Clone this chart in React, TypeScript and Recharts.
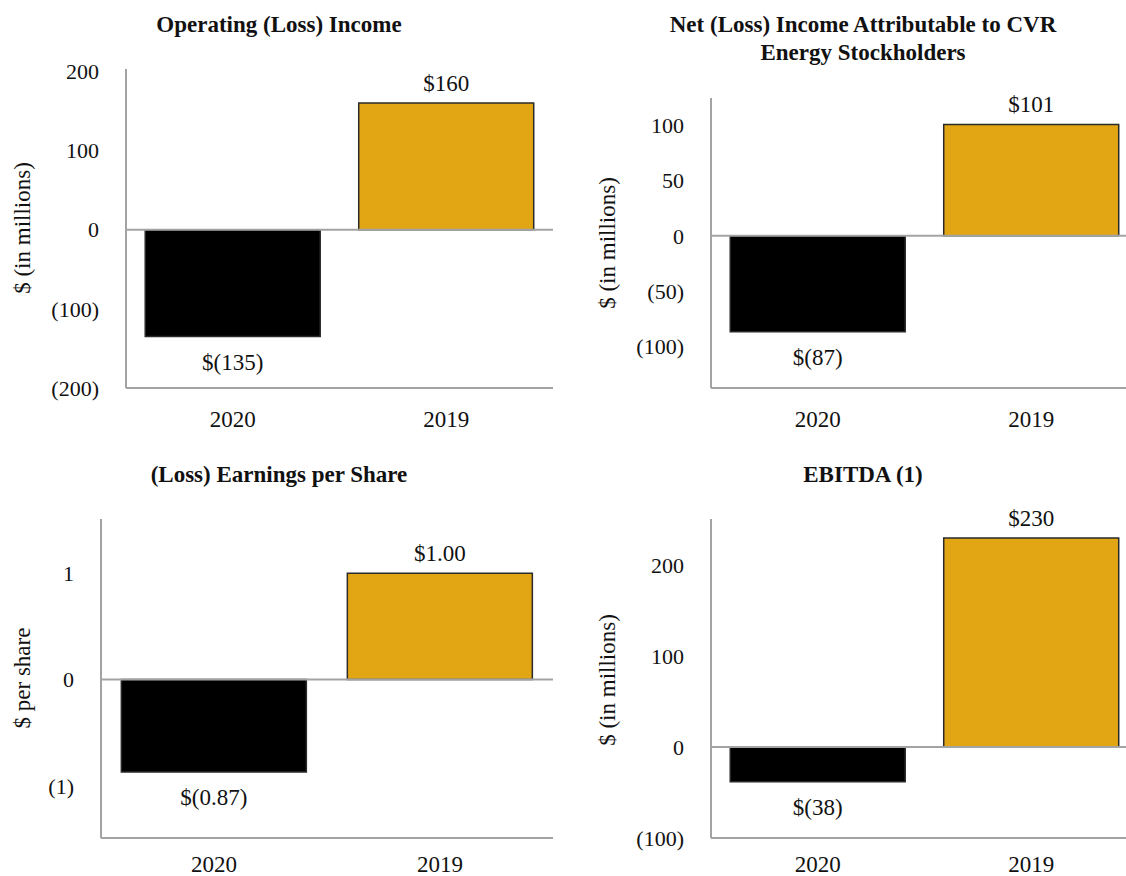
import React from "react";
import { BarChart, Bar, XAxis, YAxis, Cell, LabelList, ReferenceLine } from "recharts";

const categories = ["2020", "2019"];
const barColors = ["#000000", "#E2A614"];

const opIncomeValues = [-135, 160];
const opIncomeTicks = [-200, -100, 0, 100, 200];

const netIncomeValues = [-87, 101];
const netIncomeTicks = [-100, -50, 0, 50, 100];

const epsValues = [-0.87, 1.0];
const epsTicks = [-1, 0, 1];

const ebitdaValues = [-38, 230];
const ebitdaTicks = [-100, 0, 100, 200];

const FONT = "'Liberation Serif', 'Times New Roman', serif";
const AXIS_GRAY = "#A3A3A3";

type PanelProps = {
  title: string[];
  yLabel: string;
  values: number[];
  ticks: number[];
  domain: [number, number];
  decimals: number;
  left: number;
  top: number;
  width: number;
  height: number;
  plotTop: number;
  plotLeft: number;
  plotRight: number;
  plotBottom: number;
  titleX: number;
  titleY: number;
  yLabelX: number;
  yLabelY: number;
  xTickOffset: number;
};

const fmtTick = (v: number) => (v < 0 ? `(${Math.abs(v)})` : `${v}`);

function Panel(p: PanelProps) {
  const data = categories.map((c, i) => ({ name: c, value: p.values[i] }));
  const fmtVal = (v: number) =>
    v < 0 ? `$(${Math.abs(v).toFixed(p.decimals)})` : `$${v.toFixed(p.decimals)}`;

  const renderLabel = (props: any) => {
    const { x, y, width, height, value } = props;
    const topY = Math.min(y, y + height);
    const botY = Math.max(y, y + height);
    const cx = x + width / 2;
    const ty = value >= 0 ? topY - 12 : botY + 33;
    return (
      <text x={cx} y={ty} textAnchor="middle" fontFamily={FONT} fontSize={23} fill="#111">
        {fmtVal(value)}
      </text>
    );
  };

  const renderYTick = (props: any) => {
    const { x, y, payload } = props;
    return (
      <text x={x - 27} y={y} dy="0.35em" textAnchor="end" fontFamily={FONT} fontSize={22} fill="#111">
        {fmtTick(payload.value)}
      </text>
    );
  };

  const renderXTick = (props: any) => {
    const { x, y, payload } = props;
    return (
      <text x={x} y={y + p.xTickOffset} textAnchor="middle" fontFamily={FONT} fontSize={23} fill="#111">
        {payload.value}
      </text>
    );
  };

  return (
    <div style={{ position: "absolute", left: p.left, top: p.top, width: p.width, height: p.height }}>
      <BarChart
        width={p.width}
        height={p.height}
        data={data}
        margin={{ top: p.plotTop, right: p.width - p.plotRight, left: 0, bottom: 0 }}
        barCategoryGap="9%"
      >
        <XAxis
          dataKey="name"
          axisLine={{ stroke: AXIS_GRAY, strokeWidth: 2 }}
          tickLine={false}
          tickSize={0}
          tickMargin={0}
          height={p.height - p.plotBottom}
          tick={renderXTick}
          interval={0}
        />
        <YAxis
          type="number"
          domain={p.domain}
          ticks={p.ticks}
          allowDataOverflow
          axisLine={{ stroke: AXIS_GRAY, strokeWidth: 2 }}
          tickLine={false}
          tickSize={0}
          tickMargin={0}
          width={p.plotLeft}
          tick={renderYTick}
          interval={0}
        />
        <ReferenceLine y={0} stroke={AXIS_GRAY} strokeWidth={2} />
        <Bar dataKey="value" isAnimationActive={false} stroke="#2a2a2a" strokeWidth={1.5}>
          {data.map((d, i) => (
            <Cell key={d.name} fill={barColors[i]} />
          ))}
          <LabelList dataKey="value" content={renderLabel} />
        </Bar>
      </BarChart>
      <div
        style={{
          position: "absolute",
          left: p.titleX - 250,
          top: p.titleY,
          width: 500,
          textAlign: "center",
          fontFamily: FONT,
          fontWeight: "bold",
          fontSize: 23,
          lineHeight: "28px",
          color: "#111",
        }}
      >
        {p.title.map((t) => (
          <div key={t}>{t}</div>
        ))}
      </div>
      <div
        style={{
          position: "absolute",
          left: p.yLabelX - 150,
          top: p.yLabelY - 14,
          width: 300,
          height: 28,
          lineHeight: "28px",
          textAlign: "center",
          fontFamily: FONT,
          fontSize: 23,
          color: "#111",
          transform: "rotate(-90deg)",
          whiteSpace: "nowrap",
        }}
      >
        {p.yLabel}
      </div>
    </div>
  );
}

export default function App() {
  return (
    <div
      style={{
        position: "absolute",
        left: 0,
        top: 0,
        width: 1126,
        height: 876,
        overflow: "hidden",
        background: "#fff",
      }}
    >
      <Panel
        title={["Operating (Loss) Income"]}
        yLabel="$ (in millions)"
        values={opIncomeValues}
        ticks={opIncomeTicks}
        domain={[-200, 203]}
        decimals={0}
        left={0}
        top={0}
        width={560}
        height={440}
        plotTop={69}
        plotLeft={126}
        plotRight={553}
        plotBottom={388}
        titleX={279}
        titleY={11}
        yLabelX={23}
        yLabelY={228}
        xTickOffset={39}
      />
      <Panel
        title={["Net (Loss) Income Attributable to CVR", "Energy Stockholders"]}
        yLabel="$ (in millions)"
        values={netIncomeValues}
        ticks={netIncomeTicks}
        domain={[-138, 125]}
        decimals={0}
        left={563}
        top={0}
        width={575}
        height={440}
        plotTop={98}
        plotLeft={148}
        plotRight={575}
        plotBottom={388}
        titleX={300}
        titleY={11}
        yLabelX={45}
        yLabelY={243}
        xTickOffset={39}
      />
      <Panel
        title={["(Loss) Earnings per Share"]}
        yLabel="$ per share"
        values={epsValues}
        ticks={epsTicks}
        domain={[-1.49, 1.51]}
        decimals={2}
        left={0}
        top={440}
        width={560}
        height={436}
        plotTop={79}
        plotLeft={101}
        plotRight={553}
        plotBottom={398}
        titleX={279}
        titleY={21}
        yLabelX={23}
        yLabelY={238}
        xTickOffset={34}
      />
      <Panel
        title={["EBITDA (1)"]}
        yLabel="$ (in millions)"
        values={ebitdaValues}
        ticks={ebitdaTicks}
        domain={[-100, 251]}
        decimals={0}
        left={563}
        top={440}
        width={575}
        height={436}
        plotTop={79}
        plotLeft={148}
        plotRight={575}
        plotBottom={398}
        titleX={300}
        titleY={21}
        yLabelX={45}
        yLabelY={240}
        xTickOffset={34}
      />
    </div>
  );
}
